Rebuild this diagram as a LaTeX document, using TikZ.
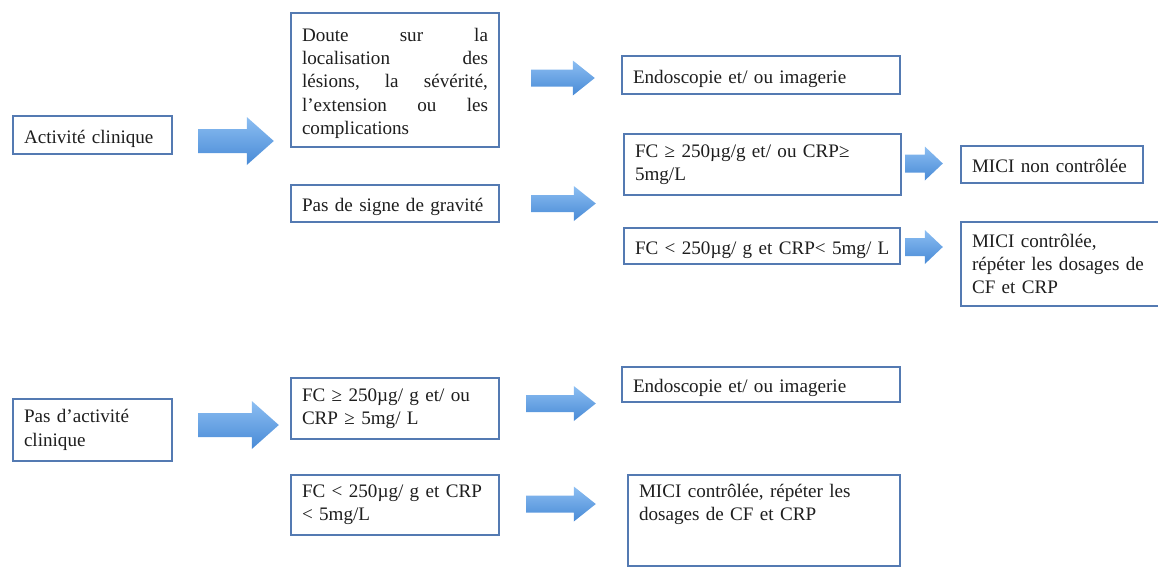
\documentclass[tikz,border=0pt]{standalone}
\usepackage{fontspec}
\setmainfont{Liberation Serif}
\usepackage{tikz}
\usetikzlibrary{calc}

\definecolor{boxline}{RGB}{84,122,178}
\definecolor{arrowtop}{RGB}{140,190,242}
\definecolor{arrowbot}{RGB}{72,138,214}
\definecolor{textdark}{RGB}{30,30,30}

\newcommand{\boxfont}{\fontsize{19.1}{23.3}\selectfont}
\newcommand{\fatarrow}[5]{%
  \coordinate (fa_tip) at (#2 |- #1);
  \shade[top color=arrowtop, bottom color=arrowbot]
    ($(#1)+(0,-#3)$) -- ($(fa_tip)+(-#5,-#3)$) -- ($(fa_tip)+(-#5,-#4)$) -- (fa_tip)
    -- ($(fa_tip)+(-#5,#4)$) -- ($(fa_tip)+(-#5,#3)$) -- ($(#1)+(0,#3)$) -- cycle;
}

\tikzset{
  box/.style={draw=boxline, line width=2.4pt, fill=white, text=textdark, font=\boxfont,
    inner xsep=11pt, inner ysep=0pt, align=left},
  oneline/.style={text height=16pt, text depth=0pt}
}

\begin{document}
\begin{tikzpicture}[x=1pt, y=-1pt]
\useasboundingbox (0,0) rectangle (1158,568);
\node[box, oneline, minimum width=159pt, text width=137pt, minimum height=38pt] (activite) at (92.5,135) {Activité clinique};
\node[box, align=justify, text height=19.5pt, minimum width=208pt, text width=186pt, minimum height=134pt] (doute) at (395,80) {Doute\hfill sur\hfill la\\localisation\hfill des\\lésions,\hfill la\hfill sévérité,\\l’extension\hfill ou\hfill les\\complications};
\node[box, oneline, minimum width=208pt, text width=186pt, minimum height=37pt] (pas_signe) at (395,203.5) {Pas de signe de gravité};
\node[box, oneline, minimum width=278pt, text width=256pt, minimum height=38pt] (endo_1) at (761,75) {Endoscopie et/ ou imagerie};
\node[box, minimum width=277pt, text width=255pt, minimum height=61pt] (fc_high_1) at (762.5,164.5) {FC ≥ 250µg/g et/ ou CRP≥\\5mg/L};
\node[box, oneline, minimum width=276pt, text width=254pt, minimum height=36pt] (fc_low_1) at (762,246) {\mbox{FC < 250µg/ g et CRP< 5mg/ L}};
\node[box, oneline, minimum width=182pt, text width=160pt, minimum height=37pt] (non_ctrl) at (1052,164.5) {MICI non contrôlée};
\node[box, minimum width=209pt, text width=187pt, minimum height=84pt] (ctrl_1) at (1065.5,264) {MICI contrôlée,\\répéter les dosages de\\CF et CRP};

\node[box, minimum width=159pt, text width=137pt, minimum height=62pt] (pas_activite) at (92.5,430) {Pas d’activité\\clinique};
\node[box, minimum width=208pt, text width=186pt, minimum height=61pt] (fc_high_2) at (395,408.5) {FC ≥ 250µg/ g et/ ou\\CRP ≥ 5mg/ L};
\node[box, minimum width=208pt, text width=186pt, minimum height=60pt] (fc_low_2) at (395,505) {FC < 250µg/ g et CRP\\< 5mg/L};
\node[box, oneline, minimum width=278pt, text width=256pt, minimum height=35pt] (endo_2) at (761,384.5) {Endoscopie et/ ou imagerie};
\node[box, minimum width=272pt, text width=250pt, minimum height=91pt, text depth=60pt] (ctrl_2) at (764,520.5) {MICI contrôlée, répéter les\\dosages de CF et CRP};

\coordinate (a1_tail) at ($(activite.east)+(25,6)$);
\coordinate (a1_head) at ($(doute.west)+(-16,0)$);
\coordinate (a2_tail) at ($(doute.east)+(31,-2)$);
\coordinate (a2_head) at ($(endo_1.west)+(-26,0)$);
\coordinate (a3_tail) at ($(pas_signe.east)+(31,0)$);
\coordinate (a3_head) at ($(fc_high_1.west)+(-27,0)$);
\coordinate (a4_tail) at ($(fc_high_1.east)+(3,-1)$);
\coordinate (a4_head) at ($(non_ctrl.west)+(-17,0)$);
\coordinate (a5_tail) at ($(fc_low_1.east)+(4,1)$);
\coordinate (a5_head) at ($(ctrl_1.west)+(-17,0)$);
\coordinate (a6_tail) at ($(pas_activite.east)+(25,-5)$);
\coordinate (a6_head) at ($(fc_high_2.west)+(-11,0)$);
\coordinate (a7_tail) at ($(fc_high_2.east)+(26,-5)$);
\coordinate (a7_head) at ($(endo_2.west)+(-25,0)$);
\coordinate (a8_tail) at ($(fc_low_2.east)+(26,-1)$);
\coordinate (a8_head) at ($(ctrl_2.west)+(-31,0)$);

\fatarrow{a1_tail}{a1_head}{12}{24}{27}
\fatarrow{a2_tail}{a2_head}{8.5}{17.5}{22}
\fatarrow{a3_tail}{a3_head}{8.5}{17.5}{22}
\fatarrow{a4_tail}{a4_head}{9}{17}{18}
\fatarrow{a5_tail}{a5_head}{9}{17}{18}
\fatarrow{a6_tail}{a6_head}{12}{24}{27}
\fatarrow{a7_tail}{a7_head}{8.5}{17.5}{22}
\fatarrow{a8_tail}{a8_head}{8.5}{17.5}{22}
\end{tikzpicture}
\end{document}
